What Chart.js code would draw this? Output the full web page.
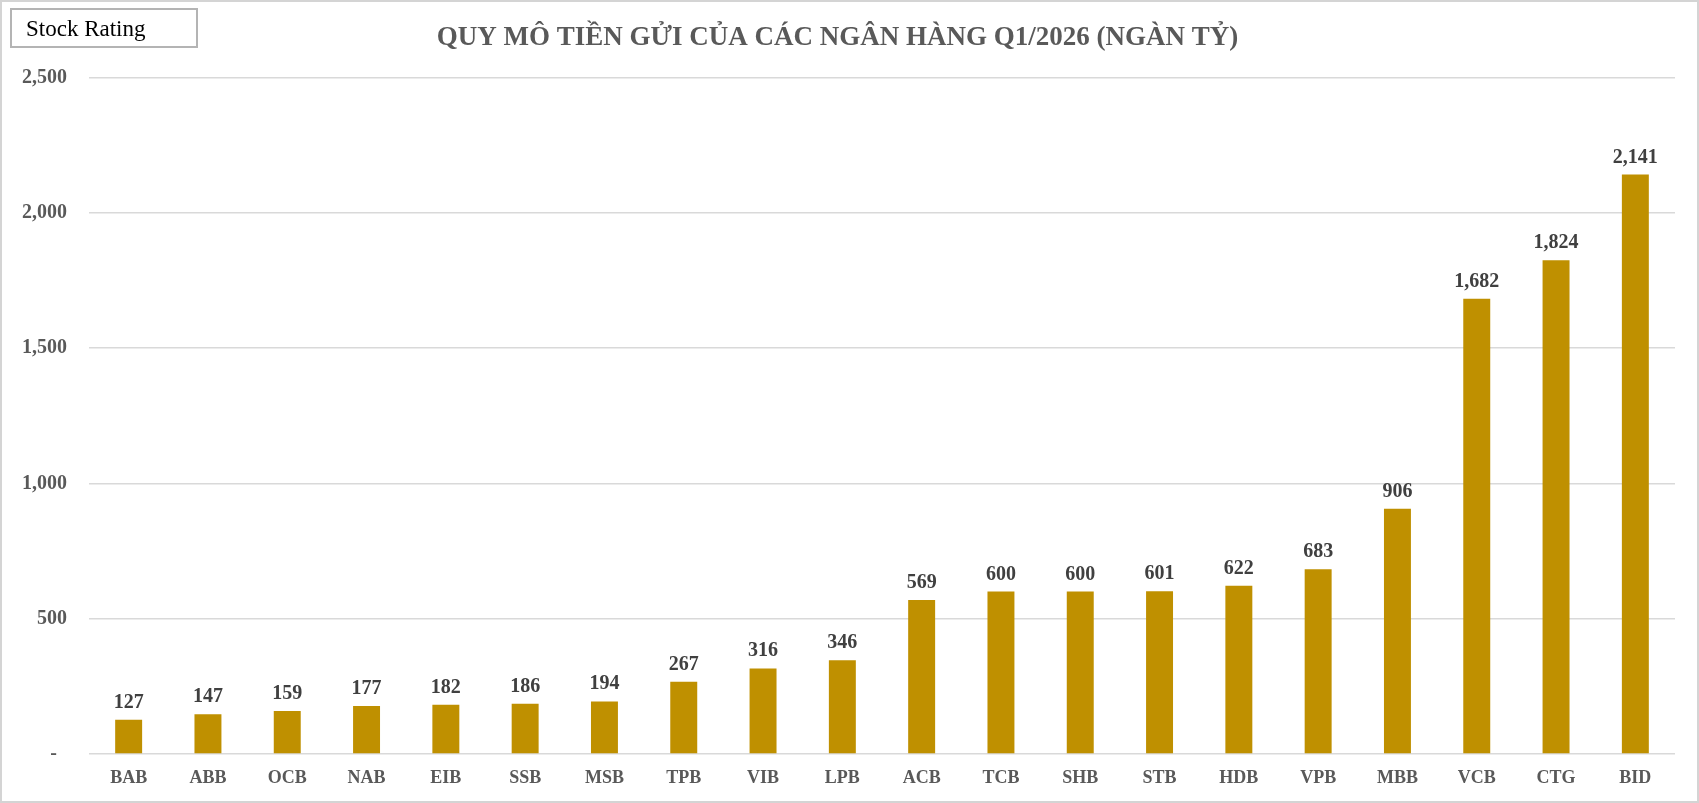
<!DOCTYPE html>
<html>
<head>
<meta charset="utf-8">
<script src="https://cdn.jsdelivr.net/npm/chart.js@4.4.1/dist/chart.umd.min.js"></script>
<style>
  html, body { margin: 0; padding: 0; background: #fff; }
  #wrap { position: relative; width: 1699px; height: 803px; }
  #frame { position: absolute; left: 0; top: 0; width: 1699px; height: 803px; box-sizing: border-box;
           border: 2px solid #d4d4d4; pointer-events: none; }
  #tag { position: absolute; left: 10px; top: 8px; width: 188px; height: 40px; box-sizing: border-box;
         border: 2px solid #b4b4b4; font: 23px "Liberation Serif", serif; color: #000;
         padding-left: 14px; line-height: 38px; }
</style>
</head>
<body>
<div id="wrap">
  <canvas id="myChart" width="1699" height="803"></canvas>
  <div id="tag">Stock Rating</div>
  <div id="frame"></div>
</div>
<script>
// ngân hàng và quy mô tiền gửi (ngàn tỷ)
const banks = ['BAB', 'ABB', 'OCB', 'NAB', 'EIB', 'SSB', 'MSB', 'TPB', 'VIB', 'LPB',
               'ACB', 'TCB', 'SHB', 'STB', 'HDB', 'VPB', 'MBB', 'VCB', 'CTG', 'BID'];
const deposits = [127, 147, 159, 177, 182, 186, 194, 267, 316, 346,
                  569, 600, 600, 601, 622, 683, 906, 1682, 1824, 2141];
const chartTitle = 'QUY MÔ TIỀN GỬI CỦA CÁC NGÂN HÀNG Q1/2026 (NGÀN TỶ)';

const serif = '"Liberation Serif", "DejaVu Serif", serif';

// labels on top of the bars (no datalabels plugin available)
const barLabels = {
  id: 'barLabels',
  afterDatasetsDraw(chart) {
    const ctx = chart.ctx;
    const meta = chart.getDatasetMeta(0);
    ctx.save();
    ctx.font = 'bold 20px ' + serif;
    ctx.fillStyle = '#404040';
    ctx.textAlign = 'center';
    ctx.textBaseline = 'alphabetic';
    meta.data.forEach((bar, i) => {
      ctx.fillText(deposits[i].toLocaleString('en-US'), bar.x, bar.y - 12);
    });
    ctx.restore();
  }
};

const ctx = document.getElementById('myChart').getContext('2d');
const myChart = new Chart(ctx, {
  type: 'bar',
  data: {
    labels: banks,
    datasets: [{
      data: deposits,
      backgroundColor: '#BF9000',
      barPercentage: 0.34,
      categoryPercentage: 1
    }]
  },
  options: {
    responsive: false,
    animation: false,
    layout: { padding: { top: 0, right: 24, bottom: 0, left: 0 } },
    plugins: {
      legend: { display: false },
      tooltip: { enabled: false },
      title: {
        display: true,
        text: chartTitle,
        color: '#595959',
        font: { family: serif, size: 27, weight: 'bold' },
        padding: { top: 22, bottom: 23 }
      }
    },
    scales: {
      x: {
        afterFit: s => { s.height = 49; },
        grid: { display: false, drawTicks: false },
        border: { display: false },
        ticks: {
          color: '#595959',
          font: { family: serif, size: 18, weight: 'bold' },
          padding: 14
        }
      },
      y: {
        min: 0,
        max: 2500,
        afterFit: s => { s.width = 89; },
        grid: { color: '#d9d9d9', lineWidth: 1.5, drawTicks: false },
        border: { display: false },
        ticks: {
          stepSize: 500,
          padding: 22,
          color: '#595959',
          font: { family: serif, size: 20, weight: 'bold' },
          callback: v => v === 0 ? '-  ' : v.toLocaleString('en-US')
        }
      }
    }
  },
  plugins: [barLabels]
});
</script>
</body>
</html>
